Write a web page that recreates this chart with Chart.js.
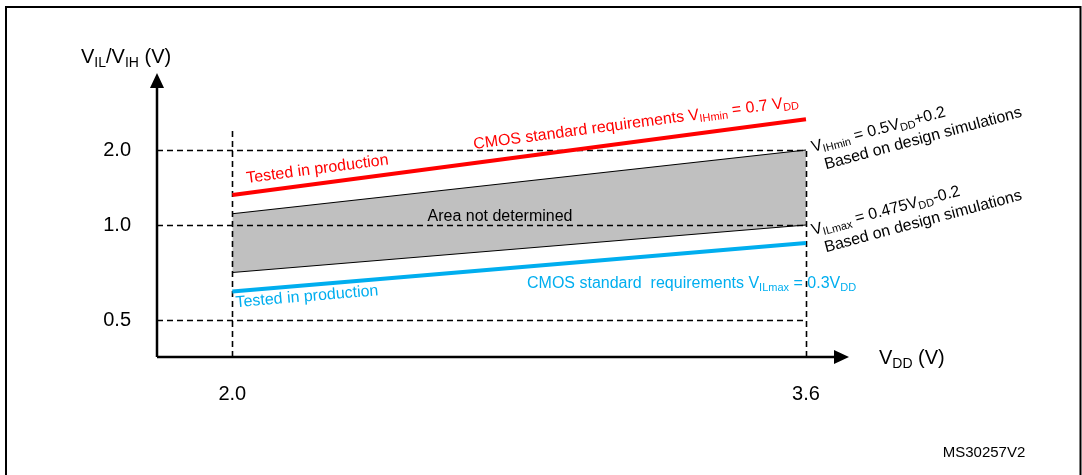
<!DOCTYPE html>
<html>
<head>
<meta charset="utf-8">
<script src="https://cdn.jsdelivr.net/npm/chart.js@4"></script>
<style>
  body { margin: 0; background: #fff; }
</style>
</head>
<body>
<canvas id="myChart" width="1082" height="475"></canvas>
<script>
// supply voltage at both ends of the lines
const vdd = [2.0, 3.6];
const vihCmos = [1.4, 2.4];      // red, CMOS standard 0.7 VDD
const vihSim = [1.15, 2.0];      // top of grey area, 0.5 VDD + 0.2
const vilSim = [0.75, 1.0];      // bottom of grey area, 0.475 VDD - 0.2
const vilCmos = [0.65, 0.905];   // blue, CMOS standard 0.3 VDD

const yTicks = [0.5, 1.0, 2.0];
const yTickLabels = ['0.5', '1.0', '2.0'];
const xTicks = [2.0, 3.6];
const xTickLabels = ['2.0', '3.6'];
const guideTop = 2.25; // dashed line at VDD = 2.0 goes up to here

// the drawing's y axis is not linear, it is stretched piece by piece
const yBreaks = [0, 0.5, 1.0, 2.0, 3.0];
const yBreakPx = [0, 37, 132, 207, 284];

class SchematicScale extends Chart.LinearScale {
    getPixelForValue(value) {
        const last = yBreaks.length - 1;
        let i = 0;
        while (i < last - 1 && value > yBreaks[i + 1]) i++;
        const t = (value - yBreaks[i]) / (yBreaks[i + 1] - yBreaks[i]);
        const px = yBreakPx[i] + t * (yBreakPx[i + 1] - yBreakPx[i]);
        return this.bottom - px / yBreakPx[last] * (this.bottom - this.top);
    }
    getValueForPixel(pixel) {
        const last = yBreaks.length - 1;
        const px = (this.bottom - pixel) / (this.bottom - this.top) * yBreakPx[last];
        let i = 0;
        while (i < last - 1 && px > yBreakPx[i + 1]) i++;
        const t = (px - yBreakPx[i]) / (yBreakPx[i + 1] - yBreakPx[i]);
        return yBreaks[i] + t * (yBreaks[i + 1] - yBreaks[i]);
    }
}
SchematicScale.id = 'schematic';
SchematicScale.defaults = Chart.LinearScale.defaults;
Chart.register(SchematicScale);

const FONT = '"Liberation Sans", Arial, sans-serif';

function toPoints(ys) {
    return vdd.map((x, i) => ({ x: x, y: ys[i] }));
}

// draws text with {sub: '..'} parts as subscripts
function richText(ctx, parts, x, y, size, color) {
    ctx.fillStyle = color;
    ctx.textAlign = 'left';
    ctx.textBaseline = 'alphabetic';
    let cx = x;
    parts.forEach(p => {
        if (typeof p === 'string') {
            ctx.font = size + 'px ' + FONT;
            ctx.fillText(p, cx, y);
            cx += ctx.measureText(p).width;
        } else {
            ctx.font = Math.round(size * 0.68) + 'px ' + FONT;
            ctx.fillText(p.sub, cx, y + size * 0.18);
            cx += ctx.measureText(p.sub).width;
        }
    });
    return cx - x;
}

function lineAngle(xs, ys, values) {
    const x1 = xs.getPixelForValue(vdd[0]), x2 = xs.getPixelForValue(vdd[1]);
    const y1 = ys.getPixelForValue(values[0]), y2 = ys.getPixelForValue(values[1]);
    return Math.atan2(y2 - y1, x2 - x1);
}

function lineYAt(xs, ys, values, px) {
    const x1 = xs.getPixelForValue(vdd[0]), x2 = xs.getPixelForValue(vdd[1]);
    const y1 = ys.getPixelForValue(values[0]), y2 = ys.getPixelForValue(values[1]);
    return y1 + (px - x1) / (x2 - x1) * (y2 - y1);
}

function rotatedText(ctx, parts, x, y, angle, size, color) {
    ctx.save();
    ctx.translate(x, y);
    ctx.rotate(angle);
    richText(ctx, parts, 0, 0, size, color);
    ctx.restore();
}

const guides = {
    id: 'guides',
    beforeDatasetsDraw(chart) {
        const ctx = chart.ctx;
        const xs = chart.scales.x, ys = chart.scales.y;
        const xEnd = xs.getPixelForValue(xTicks[xTicks.length - 1]);
        ctx.save();
        ctx.strokeStyle = '#000';
        ctx.lineWidth = 1.6;
        ctx.setLineDash([6, 4]);
        yTicks.forEach(v => {
            const py = Math.round(ys.getPixelForValue(v)) + 0.5;
            ctx.beginPath();
            ctx.moveTo(xs.left, py);
            ctx.lineTo(xEnd, py);
            ctx.stroke();
        });
        const tops = [guideTop, yTicks[yTicks.length - 1]];
        xTicks.forEach((v, i) => {
            const px = Math.round(xs.getPixelForValue(v)) + 0.5;
            ctx.beginPath();
            ctx.moveTo(px, ys.bottom);
            ctx.lineTo(px, ys.getPixelForValue(tops[i]));
            ctx.stroke();
        });
        ctx.restore();
    },
    afterDraw(chart) {
        const ctx = chart.ctx;
        const xs = chart.scales.x, ys = chart.scales.y;
        const ox = xs.left, oy = ys.bottom;
        ctx.save();

        // axes with arrows
        ctx.strokeStyle = '#000';
        ctx.fillStyle = '#000';
        ctx.lineWidth = 2.5;
        ctx.beginPath();
        ctx.moveTo(ox, oy);
        ctx.lineTo(ox, ys.top + 12);
        ctx.moveTo(ox, oy);
        ctx.lineTo(xs.right - 12, oy);
        ctx.stroke();
        ctx.beginPath();
        ctx.moveTo(ox, ys.top);
        ctx.lineTo(ox - 7, ys.top + 15);
        ctx.lineTo(ox + 7, ys.top + 15);
        ctx.closePath();
        ctx.fill();
        ctx.beginPath();
        ctx.moveTo(xs.right, oy);
        ctx.lineTo(xs.right - 15, oy - 7);
        ctx.lineTo(xs.right - 15, oy + 7);
        ctx.closePath();
        ctx.fill();

        // tick labels
        ctx.font = '20px ' + FONT;
        ctx.textBaseline = 'middle';
        ctx.textAlign = 'right';
        yTicks.forEach((v, i) => ctx.fillText(yTickLabels[i], ox - 26, ys.getPixelForValue(v)));
        ctx.textAlign = 'center';
        xTicks.forEach((v, i) => ctx.fillText(xTickLabels[i], xs.getPixelForValue(v), oy + 37));

        // axis titles
        richText(ctx, ['V', { sub: 'IL' }, '/V', { sub: 'IH' }, ' (V)'], 81, 63, 20, '#000');
        richText(ctx, ['V', { sub: 'DD' }, ' (V)'], 879, 364, 20, '#000');

        // red line texts
        const aRed = lineAngle(xs, ys, vihCmos);
        rotatedText(ctx, ['Tested in production'], 247, lineYAt(xs, ys, vihCmos, 247) - 10, aRed, 16, '#ff0000');
        rotatedText(ctx, ['CMOS standard requirements V', { sub: 'IHmin' }, ' = 0.7 V', { sub: 'DD' }],
            474, lineYAt(xs, ys, vihCmos, 474) - 14, aRed, 16, '#ff0000');

        // blue line texts
        const aBlue = lineAngle(xs, ys, vilCmos);
        rotatedText(ctx, ['Tested in production'], 236, lineYAt(xs, ys, vilCmos, 236) + 16, aBlue, 16, '#00aeef');
        richText(ctx, ['CMOS standard  requirements V', { sub: 'ILmax' }, ' = 0.3V', { sub: 'DD' }], 527, 288, 16, '#00aeef');

        // grey area
        ctx.font = '16px ' + FONT;
        ctx.textAlign = 'center';
        ctx.textBaseline = 'alphabetic';
        ctx.fillStyle = '#000';
        ctx.fillText('Area not determined', 500, 221);

        // simulated limits on the right
        const aSim = -15 * Math.PI / 180;
        const rx = xs.getPixelForValue(vdd[1]) + 7;
        ctx.save();
        ctx.translate(rx, ys.getPixelForValue(vihSim[1]) + 2);
        ctx.rotate(aSim);
        richText(ctx, ['V', { sub: 'IHmin' }, ' = 0.5V', { sub: 'DD' }, '+0.2'], 0, 0, 16, '#000');
        richText(ctx, ['Based on design simulations'], 8, 20, 16, '#000');
        ctx.restore();
        ctx.save();
        ctx.translate(rx, ys.getPixelForValue(vilSim[1]) + 10);
        ctx.rotate(aSim);
        richText(ctx, ['V', { sub: 'ILmax' }, ' = 0.475V', { sub: 'DD' }, '-0.2'], 0, 0, 16, '#000');
        richText(ctx, ['Based on design simulations'], 8, 20, 16, '#000');
        ctx.restore();

        ctx.font = '15px ' + FONT;
        ctx.textAlign = 'center';
        ctx.fillText('MS30257V2', 984, 457);

        // frame
        ctx.lineWidth = 2;
        ctx.setLineDash([]);
        ctx.beginPath();
        ctx.moveTo(6, 475);
        ctx.lineTo(6, 7);
        ctx.lineTo(1080.5, 7);
        ctx.lineTo(1080.5, 475);
        ctx.stroke();
        ctx.restore();
    }
};

const ctx = document.getElementById('myChart');
const myChart = new Chart(ctx, {
    type: 'line',
    data: {
        datasets: [
            {
                label: 'VIH CMOS',
                data: toPoints(vihCmos),
                borderColor: '#ff0000',
                borderWidth: 4,
                pointRadius: 0,
                fill: false
            },
            {
                label: 'VIH simulation',
                data: toPoints(vihSim),
                borderColor: '#000',
                borderWidth: 1.2,
                backgroundColor: '#c0c0c0',
                pointRadius: 0,
                fill: '+1'
            },
            {
                label: 'VIL simulation',
                data: toPoints(vilSim),
                borderColor: '#000',
                borderWidth: 1.2,
                pointRadius: 0,
                fill: false
            },
            {
                label: 'VIL CMOS',
                data: toPoints(vilCmos),
                borderColor: '#00aeef',
                borderWidth: 4,
                pointRadius: 0,
                fill: false
            }
        ]
    },
    options: {
        responsive: false,
        animation: false,
        events: [],
        layout: {
            padding: { left: 157, right: 233, top: 73, bottom: 118 }
        },
        plugins: {
            legend: { display: false },
            tooltip: { enabled: false },
            filler: { drawTime: 'beforeDatasetsDraw' }
        },
        scales: {
            x: { type: 'linear', min: 1.79, max: 3.72, display: false },
            y: { type: 'schematic', min: 0, max: 3.0, display: false }
        }
    },
    plugins: [guides]
});
</script>
</body>
</html>
